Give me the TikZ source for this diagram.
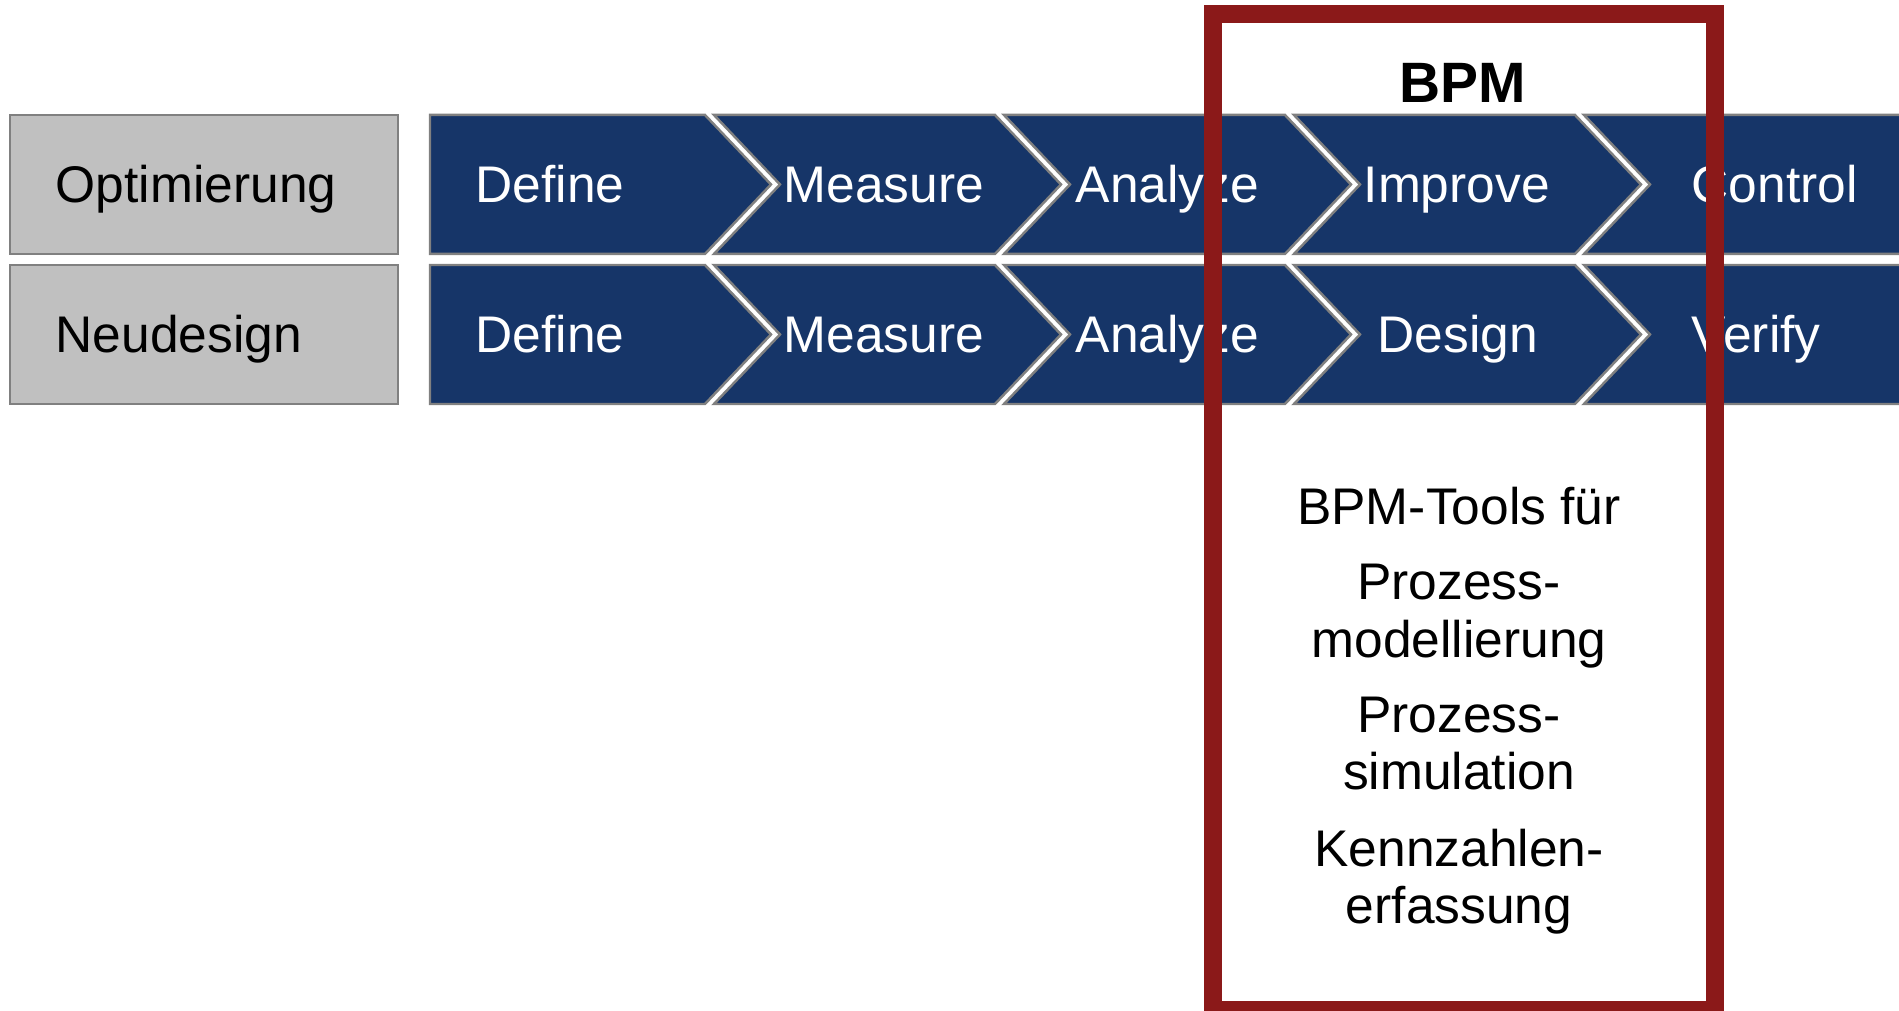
\documentclass[tikz,border=0pt]{standalone}
\usepackage{fontspec}
\setmainfont{Liberation Sans}
\usetikzlibrary{positioning,calc}
\definecolor{dmblue}{RGB}{22,53,104}
\definecolor{bpmred}{RGB}{139,25,25}
\definecolor{rowgray}{RGB}{192,192,192}
\definecolor{edgegray}{RGB}{128,128,128}
\tikzset{rowbox/.style={fill=rowgray,draw=edgegray,line width=0.7pt}}
\tikzset{chevron/.style={fill=dmblue,draw=edgegray,line width=0.7pt}}
\tikzset{stage/.style={text=white,anchor=base west,inner sep=0pt,font=\fontsize{14.66}{17}\selectfont}}
\tikzset{rowlabel/.style={text=black,anchor=base west,inner sep=0pt,font=\fontsize{14.66}{17}\selectfont}}
\tikzset{toolline/.style={text=black,anchor=base,inner sep=0pt,font=\fontsize{14.66}{17}\selectfont}}
\tikzset{bpmframe/.style={draw=bpmred,line width=0.18cm}}

\begin{document}
\begin{tikzpicture}
  \useasboundingbox (0,0) rectangle (18.99,10.11);
  \clip (0,0) rectangle (18.99,10.11);
  % two rows: top, bottom, middle
  \foreach \t/\b/\m in {8.96/7.57/8.265, 7.46/6.07/6.765} {
    \draw[rowbox] (0.10,\b) rectangle (3.98,\t);
    \draw[chevron] (4.30,\t) -- (7.05,\t) -- (7.71,\m) -- (7.05,\b) -- (4.30,\b) -- cycle;
    \foreach \k in {1,2,3} {
      \pgfmathsetmacro{\lx}{7.14+2.90*(\k-1)}
      \pgfmathsetmacro{\rx}{\lx+2.81}
      \draw[chevron] (\lx,\t) -- (\rx,\t) -- ({\rx+0.66},\m) -- (\rx,\b)
        -- (\lx,\b) -- ({\lx+0.66},\m) -- cycle;
    }
    \draw[chevron] (15.84,\t) -- (19.60,\t) -- (19.60,\b) -- (15.84,\b) -- (16.50,\m) -- cycle;
  }
  % row labels
  \node[rowlabel] (opt) at (0.55,8.08) {Optimierung};
  \node[rowlabel] (neu) at (0.55,6.58) {Neudesign};
  % DMAIC
  \node[stage] (define1) at (4.75,8.08) {Define};
  \node[stage] (measure1) at (7.83,8.08) {Measure};
  \node[stage] (analyze1) at (10.75,8.08) {Analyze};
  \node[stage] (improve) at (13.63,8.08) {Improve};
  \node[stage] (control) at (16.91,8.08) {Control};
  % DMADV
  \node[stage] (define2) at (4.75,6.58) {Define};
  \node[stage] (measure2) at (7.83,6.58) {Measure};
  \node[stage] (analyze2) at (10.75,6.58) {Analyze};
  \node[stage] (design) at (13.77,6.58) {Design};
  \node[stage] (verify) at (16.91,6.58) {Verify};
  % BPM box
  \node[anchor=base,inner sep=0pt,font=\fontsize{16.2}{19}\selectfont\bfseries] (bpm) at (14.63,9.08) {BPM};
  \foreach \s/\y [count=\i] in {BPM-Tools für/4.865, Prozess-/4.115, modellierung/3.535,
      Prozess-/2.785, simulation/2.215, Kennzahlen-/1.445, erfassung/0.875}
    \node[toolline] (tool\i) at (14.59,\y) {\s};
  \draw[bpmframe] (12.13,9.97) rectangle (17.145,0.01);
\end{tikzpicture}
\end{document}
